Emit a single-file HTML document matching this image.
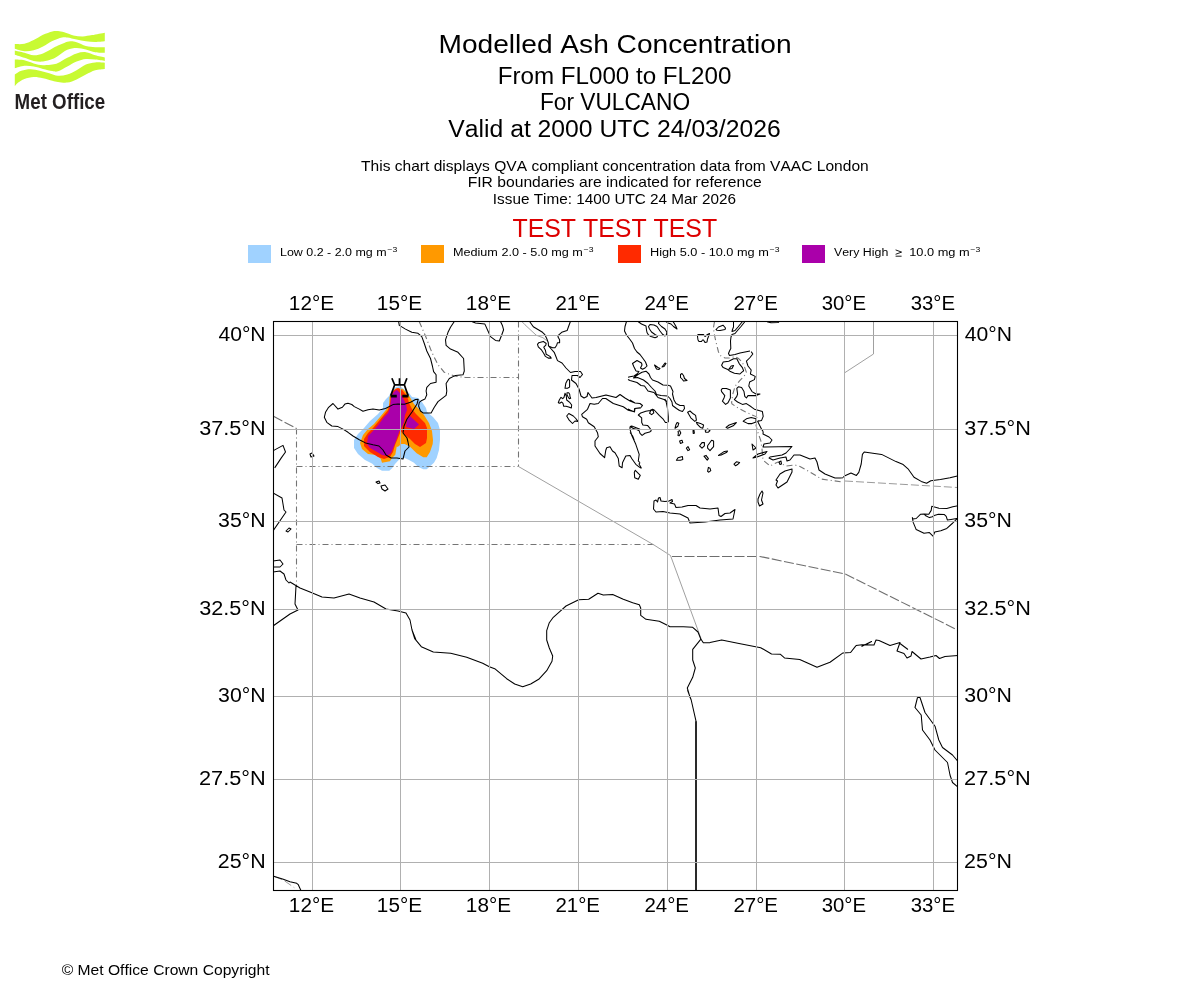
<!DOCTYPE html>
<html><head><meta charset="utf-8"><style>
html,body{margin:0;padding:0;background:#fff;width:1200px;height:1000px;overflow:hidden}
svg{display:block;will-change:transform}
text{font-family:"Liberation Sans",sans-serif;font-kerning:none}
</style></head><body>
<svg width="1200" height="1000" viewBox="0 0 1200 1000">
<rect width="1200" height="1000" fill="#fff"/>
<g fill="#c8fa32"><path d="M14.80 44.10 C16.40 44.05 21.25 44.47 24.40 43.80 C27.55 43.13 30.60 41.60 33.70 40.10 C36.80 38.60 39.90 36.25 43.00 34.80 C46.10 33.35 49.80 32.02 52.30 31.40 C54.80 30.78 56.02 30.95 58.00 31.10 C59.98 31.25 61.62 31.58 64.20 32.30 C66.78 33.02 70.40 34.72 73.50 35.40 C76.60 36.08 79.70 36.45 82.80 36.40 C85.90 36.35 88.43 35.72 92.10 35.10 C95.77 34.48 102.68 33.10 104.80 32.70 L104.80 41.30 C103.20 41.42 98.35 42.02 95.20 42.00 C92.05 41.98 89.00 41.62 85.90 41.20 C82.80 40.78 79.70 40.12 76.60 39.50 C73.50 38.88 69.73 37.83 67.30 37.50 C64.87 37.17 64.50 36.92 62.00 37.50 C59.50 38.08 55.47 39.48 52.30 41.00 C49.13 42.52 46.10 45.05 43.00 46.60 C39.90 48.15 36.80 49.52 33.70 50.30 C30.60 51.08 27.55 51.55 24.40 51.30 C21.25 51.05 16.40 49.22 14.80 48.80 Z"/><path d="M14.80 50.60 C16.40 50.97 21.25 52.02 24.40 52.80 C27.55 53.58 30.60 55.20 33.70 55.30 C36.80 55.40 39.90 54.53 43.00 53.40 C46.10 52.27 49.80 49.80 52.30 48.50 C54.80 47.20 56.02 46.53 58.00 45.60 C59.98 44.67 62.13 43.62 64.20 42.90 C66.27 42.18 68.33 41.40 70.40 41.30 C72.47 41.20 74.02 41.52 76.60 42.30 C79.18 43.08 82.80 45.18 85.90 46.00 C89.00 46.82 92.05 47.00 95.20 47.20 C98.35 47.40 103.20 47.20 104.80 47.20 L104.80 52.80 C103.20 52.70 98.35 52.77 95.20 52.20 C92.05 51.63 89.00 50.12 85.90 49.40 C82.80 48.68 79.70 47.85 76.60 47.90 C73.50 47.95 70.40 48.37 67.30 49.70 C64.20 51.03 60.50 54.35 58.00 55.90 C55.50 57.45 54.80 58.07 52.30 59.00 C49.80 59.93 46.10 61.18 43.00 61.50 C39.90 61.82 36.80 61.52 33.70 60.90 C30.60 60.28 27.55 58.83 24.40 57.80 C21.25 56.77 16.40 55.22 14.80 54.70 Z"/><path d="M14.80 59.60 C16.40 59.72 21.25 59.67 24.40 60.30 C27.55 60.93 30.60 62.58 33.70 63.40 C36.80 64.22 39.90 65.00 43.00 65.20 C46.10 65.40 49.80 64.97 52.30 64.60 C54.80 64.23 55.50 64.13 58.00 63.00 C60.50 61.87 64.20 59.40 67.30 57.80 C70.40 56.20 73.50 54.33 76.60 53.40 C79.70 52.47 82.80 51.88 85.90 52.20 C89.00 52.52 92.05 54.42 95.20 55.30 C98.35 56.18 103.20 57.13 104.80 57.50 L104.80 60.90 C103.20 60.68 98.35 59.92 95.20 59.60 C92.05 59.28 89.00 58.68 85.90 59.00 C82.80 59.32 79.70 60.25 76.60 61.50 C73.50 62.75 70.40 64.87 67.30 66.50 C64.20 68.13 60.50 70.53 58.00 71.30 C55.50 72.07 54.80 71.50 52.30 71.10 C49.80 70.70 46.10 69.67 43.00 68.90 C39.90 68.13 36.80 67.02 33.70 66.50 C30.60 65.98 27.55 65.50 24.40 65.80 C21.25 66.10 16.40 67.88 14.80 68.30 Z"/><path d="M14.80 74.50 C15.88 73.88 18.67 71.67 21.30 70.80 C23.93 69.93 27.50 69.30 30.60 69.30 C33.70 69.30 36.80 70.13 39.90 70.80 C43.00 71.47 46.18 72.47 49.20 73.30 C52.22 74.13 54.98 75.60 58.00 75.80 C61.02 76.00 64.20 75.43 67.30 74.50 C70.40 73.57 73.50 71.85 76.60 70.20 C79.70 68.55 82.80 65.90 85.90 64.60 C89.00 63.30 92.05 62.72 95.20 62.40 C98.35 62.08 103.20 62.65 104.80 62.70 L104.80 68.90 C103.20 69.12 98.35 69.27 95.20 70.20 C92.05 71.13 89.00 72.95 85.90 74.50 C82.80 76.05 79.70 78.15 76.60 79.50 C73.50 80.85 70.40 82.18 67.30 82.60 C64.20 83.02 60.50 82.32 58.00 82.00 C55.50 81.68 54.80 81.33 52.30 80.70 C49.80 80.07 46.10 78.82 43.00 78.20 C39.90 77.58 36.80 76.88 33.70 77.00 C30.60 77.12 26.98 77.97 24.40 78.90 C21.82 79.83 19.80 81.37 18.20 82.60 C16.60 83.83 15.37 85.68 14.80 86.30 Z"/></g>
<text x="14.6" y="109.2" font-size="21.8" font-weight="bold" fill="#231f20" textLength="90.6" lengthAdjust="spacingAndGlyphs" style="font-family:'Liberation Sans',sans-serif">Met Office</text>

<clipPath id="ax"><rect x="273.5" y="321.5" width="684.0" height="569.0"/></clipPath>
<g clip-path="url(#ax)">

<path d="M400.0 386.0 L409.0 393.0 L412.0 397.0 L418.0 398.0 L422.0 402.0 L426.0 408.0 L427.0 412.0 L433.0 417.0 L438.0 423.0 L440.0 430.0 L440.0 440.0 L439.0 450.0 L436.7 458.0 L434.0 462.7 L430.0 466.3 L426.7 469.3 L423.3 469.3 L418.0 466.7 L414.0 462.7 L409.0 460.0 L404.7 458.0 L400.0 459.0 L398.7 460.0 L395.0 464.0 L392.3 468.0 L389.3 470.7 L382.0 470.7 L377.0 468.0 L372.0 463.5 L365.0 460.0 L358.0 454.0 L354.0 448.0 L354.0 440.0 L358.0 434.0 L364.0 428.0 L370.0 421.0 L378.0 414.0 L383.0 408.0 L383.0 403.0 L386.0 399.0 L389.0 396.0 L392.0 390.0 L396.0 387.0Z" fill="#a0d2ff"/>
<path d="M397.0 388.0 L403.0 389.0 L408.0 394.0 L411.0 399.0 L414.0 404.0 L419.0 409.0 L424.0 415.0 L429.0 423.0 L432.0 431.0 L433.0 440.0 L432.7 444.0 L430.0 452.0 L426.7 457.3 L423.3 457.3 L416.7 453.3 L410.0 446.7 L404.7 444.0 L401.3 444.0 L398.0 446.7 L396.7 446.7 L395.3 454.7 L392.0 458.0 L390.0 461.3 L382.0 462.7 L380.7 458.7 L376.0 455.0 L368.0 454.0 L362.0 449.0 L360.0 443.0 L363.0 435.0 L368.0 429.0 L374.0 424.0 L380.0 417.0 L385.0 411.0 L389.0 406.0 L389.5 397.0 L392.0 393.0 L395.0 389.0Z" fill="#ff9900"/>
<path d="M398.0 388.0 L402.0 390.0 L406.0 395.0 L408.0 399.0 L409.0 403.0 L412.0 409.0 L416.0 414.0 L420.0 418.0 L425.0 423.0 L427.0 428.0 L427.0 438.0 L426.0 443.0 L420.0 447.0 L415.0 444.0 L410.0 439.0 L405.0 435.0 L402.0 432.0 L400.0 433.0 L398.0 438.0 L395.0 445.0 L393.0 452.0 L390.0 457.0 L384.0 459.0 L378.0 457.0 L370.0 452.0 L364.0 446.0 L364.0 439.0 L368.0 433.0 L373.0 428.0 L378.0 422.0 L383.0 416.0 L388.0 410.0 L390.0 403.0 L391.0 394.0 L394.0 390.0Z" fill="#ff2a00"/>
<path d="M397.0 390.0 L400.0 393.0 L403.0 398.0 L406.0 404.0 L407.0 410.0 L405.0 415.0 L404.0 422.0 L402.0 427.0 L399.0 432.0 L397.0 438.0 L394.0 446.0 L391.0 453.0 L387.0 456.0 L382.0 455.0 L377.0 452.0 L370.0 448.0 L367.0 444.0 L368.0 436.0 L373.0 431.0 L379.0 424.0 L384.0 417.0 L388.0 413.0 L390.0 408.0 L391.0 398.0 L393.0 393.0 L395.0 391.0Z" fill="#aa00aa"/>
<path d="M410.0 416.0 L419.0 424.5 L414.0 429.0 L406.0 427.0 L407.0 419.0Z" fill="#aa00aa"/>
<path d="M419.2 321.5 L425.5 336.0 L431.8 352.2 L438.0 364.8 L444.2 372.2 L454.2 376.0 L465.5 377.5 L518.3 377.5" fill="none" stroke="#747474" stroke-width="1.1" stroke-dasharray="6 3 1 3"/>
<path d="M518.5 321.5 L518.5 466.5" fill="none" stroke="#747474" stroke-width="1.1" stroke-dasharray="6 3 1 3"/>
<path d="M296.5 466.5 L518.5 466.5" fill="none" stroke="#747474" stroke-width="1.1" stroke-dasharray="6 3 1 3"/>
<path d="M296.5 428.5 L296.5 586.0" fill="none" stroke="#747474" stroke-width="1.1" stroke-dasharray="6 3 1 3"/>
<path d="M296.5 544.5 L654.0 544.5" fill="none" stroke="#747474" stroke-width="1.1" stroke-dasharray="6 3 1 3"/>
<path d="M714.5 321.5 L713.5 327.5 L714.0 332.5 L715.5 340.0 L717.0 346.0 L718.5 352.0 L721.0 356.0 L725.0 358.0 L729.5 358.0 L735.0 356.5 L738.5 358.5 L741.5 361.5 L744.0 365.5 L746.4 372.4 L744.0 376.4 L740.0 380.4 L735.2 386.0 L732.8 394.0 L731.6 402.8 L732.0 404.0 L737.4 407.6 L745.2 411.8 L756.0 416.6 L759.0 420.2 L756.0 425.0 L757.8 432.2 L760.8 440.6 L762.0 449.0 L763.0 460.0 L770.0 466.0 L778.0 462.0 L786.0 466.0 L795.0 465.0 L800.0 466.5 L810.0 472.0 L821.6 479.1 L841.4 481.8" fill="none" stroke="#747474" stroke-width="1.1" stroke-dasharray="6 3 1 3"/>
<path d="M273.5 416.3 L296.5 428.5" fill="none" stroke="#6e6e6e" stroke-width="1.1" stroke-dasharray="10 2.5"/>
<path d="M672.0 556.5 L760.0 556.5 L845.3 574.0 L957.5 630.0" fill="none" stroke="#6e6e6e" stroke-width="1.1" stroke-dasharray="10 2.5"/>
<path d="M845.0 481.0 L957.5 487.5" fill="none" stroke="#9a9a9a" stroke-width="1" stroke-dasharray="8 3"/>
<path d="M518.5 466.5 L654.0 545.0 L670.5 555.5 L701.3 639.3" fill="none" stroke="#a0a0a0" stroke-width="1"/>
<path d="M521.8 321.5 L525.0 324.8 L536.2 335.2 L542.9 337.7 L546.7 340.6" fill="none" stroke="#a0a0a0" stroke-width="1"/>
<path d="M873.5 321.5 L873.5 354.0 L844.5 372.9 L844.5 481.0" fill="none" stroke="#a0a0a0" stroke-width="1"/>
<path d="M274.5 876.7 L283.3 880.0 L294.3 887.7" fill="none" stroke="#9a9a9a" stroke-width="1" stroke-dasharray="8 3"/>
<path d="M333.0 403.5 L338.0 409.1 L342.4 407.3 L344.9 404.1 L348.0 403.3 L351.8 404.5 L354.3 406.6 L359.3 409.1 L363.0 411.3 L368.0 409.8 L373.0 409.1 L379.3 410.0 L385.5 408.5 L393.0 404.6 L398.0 404.1 L404.3 404.3 L410.5 402.3 L415.5 399.5 L418.2 399.3 L417.0 404.0 L412.0 412.0 L407.0 419.0 L404.0 426.0 L403.0 433.0 L407.0 438.0 L408.0 442.0 L409.0 447.0 L405.0 451.0 L404.0 455.0 L403.0 459.0 L397.0 458.0 L391.0 458.0 L386.0 455.0 L383.0 450.0 L379.0 446.0 L373.0 444.8 L365.5 442.9 L359.3 439.8 L353.0 436.0 L348.0 432.3 L343.0 429.1 L338.0 426.6 L331.8 426.0 L326.8 422.3 L324.3 417.3 L325.5 412.3 L328.6 407.3Z M398.6 321.5 L399.3 325.4 L405.5 329.1 L411.8 332.3 L418.0 333.3 L421.8 336.6 L424.3 343.5 L426.8 351.0 L430.5 358.5 L432.4 366.0 L433.6 371.6 L436.1 374.8 L436.1 382.3 L430.5 383.5 L426.8 387.3 L426.1 391.0 L426.8 394.8 L424.9 399.1 L421.8 400.4 L419.3 402.3 L418.6 406.0 L420.5 411.0 L423.0 412.9 L431.1 412.9 L434.3 407.3 L438.0 401.6 L446.1 395.4 L446.8 391.0 L446.1 383.5 L449.3 378.5 L455.5 375.4 L463.0 374.8 L464.3 371.0 L463.6 358.5 L458.0 352.3 L450.5 349.1 L446.1 345.4 L445.5 339.8 L448.0 332.3 L450.5 327.3 L454.3 321.5 M471.8 321.5 L475.5 322.9 L484.9 324.1 L488.0 331.0 L490.5 336.6 L495.5 340.4 L499.3 341.0 L501.8 334.8 L503.6 329.8 L502.4 325.4 L500.5 321.5 M529.6 321.5 L533.3 326.8 L537.5 329.3 L542.5 332.3 L544.6 334.3 L546.7 338.5 L548.3 342.7 L548.5 346.0 L550.8 348.5 L554.2 352.3 L556.2 357.3 L557.5 360.6 L562.0 363.0 L566.0 368.0 L570.5 372.5 L575.0 371.5 L580.5 371.5 L582.5 374.5 L580.0 377.5 L577.5 375.5 L572.0 375.5 L571.5 380.0 L576.0 383.5 L579.0 389.0 L581.0 396.0 L584.0 398.0 L587.0 396.5 L588.0 392.5 L592.0 398.0 L596.0 397.5 L606.0 395.0 L616.0 397.5 L620.0 394.5 L625.0 398.0 L630.0 401.0 L635.0 403.0 L640.0 403.5 M570.4 321.5 L568.3 327.3 L567.1 330.6 L561.7 332.3 L558.8 334.8 L557.9 336.8 L559.6 339.8 L559.6 342.7 L557.5 342.7 L556.7 345.2 L555.0 347.7 L552.5 347.7 L548.5 346.0 M537.5 344.3 L538.8 342.7 L543.3 341.4 L546.2 343.5 L545.8 345.2 L543.8 347.2 L545.4 350.2 L546.2 354.3 L550.0 356.4 L551.2 358.1 L548.3 358.1 L545.4 356.4 L543.8 353.5 L541.7 350.2 L538.3 346.8Z M273.8 450.4 L283.0 445.4 L285.5 452.0 L281.3 457.9 L274.7 467.9 M638.0 321.5 L641.5 324.0 L646.0 326.0 L646.5 330.0 L647.0 332.5 L648.5 335.0 L651.0 336.5 L655.0 337.8 L657.0 337.0 L657.5 336.0 L655.0 334.5 L651.5 332.0 L649.5 329.0 L648.5 326.5 L650.0 324.5 L654.0 325.0 L657.0 326.5 L660.0 331.0 L662.5 334.2 L665.0 336.0 L666.5 334.5 L666.8 332.0 L665.0 329.0 L661.5 326.5 L658.5 323.5 L659.0 321.5 M666.0 321.5 L668.0 323.0 L671.0 324.0 L673.5 326.5 L677.0 329.0 L676.0 326.5 L674.0 323.0 L673.0 321.5 M630.0 339.5 L632.5 343.0 L634.5 348.5 L637.0 352.0 L640.0 354.5 L643.0 358.5 L645.5 362.0 L647.0 366.0 L645.0 368.0 L642.5 369.2 L640.5 368.0 L642.0 365.0 L641.5 363.0 L637.0 360.5 L632.5 363.5 L634.0 367.0 L636.0 371.0 M654.5 365.0 L658.0 367.5 L660.0 368.5 L659.0 369.5 L656.5 369.0Z M662.0 367.0 L665.0 363.0 L666.0 363.5 L664.0 366.5Z M698.0 334.5 L703.5 334.5 L705.0 336.5 L707.5 334.5 L709.5 333.5 L708.5 336.5 L707.5 339.0 L707.0 342.0 L705.0 342.5 L703.5 340.0 L702.5 340.0 L701.5 341.5 L699.0 341.5 L698.0 340.0 L697.5 336.5Z M716.0 329.5 L718.5 327.0 L723.0 325.2 L725.5 328.0 L725.0 329.5 L720.0 330.5 L717.0 330.2Z M733.5 321.5 L733.5 327.0 L732.5 329.5 L732.0 331.5 L735.0 330.5 L738.0 327.0 L742.5 321.5 M745.0 321.5 L741.0 326.5 L737.5 330.5 L735.0 333.5 L732.0 334.5 L731.0 337.0 L730.5 341.0 L730.8 348.5 L729.5 351.0 L728.5 353.5 L729.5 355.5 L735.0 354.5 L740.0 353.0 L750.0 351.0 M636.0 371.0 L639.0 371.5 L637.0 374.0 L634.0 376.0 L630.0 376.8 L628.0 377.2 M633.5 378.0 L638.0 374.5 L642.0 372.2 L646.0 371.2 L649.0 374.0 L650.5 377.5 L652.5 380.0 L658.0 382.0 L663.0 385.0 L668.0 385.2 L670.5 386.0 L673.0 391.5 L672.5 394.0 L674.0 400.0 L676.0 403.5 L680.0 405.5 L684.0 405.5 L684.5 408.5 L682.5 411.5 L679.5 410.5 L676.5 408.5 L672.5 405.5 L672.0 402.0 L670.0 398.5 L667.5 396.0 L661.0 395.5 L656.5 394.5 L655.0 391.0 L651.5 387.5 L648.0 383.5 L643.5 380.0 L637.5 377.5Z M628.0 379.5 L630.0 380.5 L637.0 382.5 L641.0 385.5 L644.5 386.0 L648.0 391.0 L654.0 392.5 L656.0 395.0 L658.0 397.5 L664.0 399.5 L667.0 401.5 M630.0 400.0 L635.0 403.0 L640.0 403.5 L642.5 405.5 L640.5 408.0 L635.0 408.5 L634.5 412.0 L630.0 410.0 L628.0 409.0 M680.5 374.5 L682.0 373.5 L683.5 375.5 L684.5 378.5 L687.0 380.5 L683.5 381.0 L682.5 379.5 L680.5 377.5Z M626.5 321.5 L625.0 326.5 L624.5 331.0 L626.5 335.0 L630.0 339.5 M565.0 388.3 L565.8 383.3 L567.5 380.0 L568.8 379.2 L569.6 380.4 L569.6 387.1 L567.5 388.3Z M565.0 393.3 L564.0 397.3 L562.7 398.7 L561.0 397.3 L559.3 400.0 L558.3 402.7 L559.7 403.3 L561.7 402.0 L563.0 403.3 L563.7 406.3 L566.0 406.3 L568.7 407.0 L571.3 408.0 L571.7 405.0 L570.0 402.7 L566.7 400.0 L566.3 396.0Z M567.0 392.7 L568.7 392.7 L569.7 394.3 L570.0 396.7 L570.7 398.3 L569.3 398.7 L568.0 396.7 L567.0 394.7Z M566.7 416.0 L568.8 413.5 L573.3 416.0 L575.8 418.5 L577.9 421.4 L575.0 421.0 L572.5 423.5 L569.2 420.2Z M640.0 407.7 L634.6 408.5 L634.2 411.8 L628.3 410.2 L623.3 406.8 L613.3 403.5 L605.8 398.5 L602.5 398.5 L598.3 403.5 L594.2 404.3 L590.0 403.5 L587.5 409.3 L581.7 414.3 L582.5 416.8 L586.7 419.3 L588.3 422.7 L594.2 426.8 L597.5 432.7 L598.3 436.8 L595.0 441.0 L595.0 446.0 L600.0 453.5 L604.6 457.7 L605.8 450.2 L606.7 447.7 L610.0 446.8 L612.5 451.0 L615.0 452.7 L618.3 458.5 L619.2 466.0 L622.1 467.7 L622.5 462.7 L625.8 456.0 L630.0 455.6 L631.7 458.5 L635.8 464.3 L640.0 467.7 M630.0 426.8 L631.7 426.0 L640.0 429.3 M630.0 426.8 L630.0 429.3 L631.7 435.2 L635.8 444.3 L639.2 454.3 L638.3 461.0 L640.0 462.7 M630.0 426.2 L632.9 428.3 L636.7 429.6 L639.2 430.8 L640.0 433.3 L642.1 435.4 L645.0 433.3 L649.6 432.1 L651.2 430.8 L650.0 428.3 L647.5 425.4 L642.9 425.0 L641.7 422.5 L641.7 417.9 L638.3 415.0 L640.8 412.9 L645.8 411.2 L650.0 410.4 L652.5 409.2 L654.2 410.0 L659.2 415.4 L662.9 418.8 L665.4 422.5 L667.5 422.5 L668.3 421.7 L668.3 416.7 L667.5 408.3 L666.2 402.1 L665.4 400.0 L665.0 398.8 M649.6 413.3 L650.8 410.4 L652.9 410.0 L653.8 412.9 L651.7 414.6Z M675.0 428.3 L675.8 425.0 L677.1 422.5 L678.8 423.3 L677.9 426.2Z M630.0 432.5 L632.5 435.8 L634.2 440.0 M687.6 412.2 L690.0 411.0 L693.2 413.8 L695.6 415.4 L696.4 420.2 L694.8 421.4 L690.8 417.8Z M696.4 422.2 L700.4 423.4 L703.6 425.0 L702.8 428.2 L700.4 427.4 L697.2 424.2Z M678.0 431.4 L679.6 430.6 L680.8 433.0 L679.2 435.8 L678.0 435.4 L678.4 433.0Z M693.0 430.4 L694.0 430.2 L694.4 433.2 L693.2 433.4Z M705.2 430.6 L707.6 429.0 L710.0 430.6 L708.4 432.2 L705.6 432.2Z M679.6 441.0 L682.0 440.2 L682.8 442.6 L680.4 443.4Z M699.6 445.8 L702.0 442.6 L704.4 442.6 L704.4 445.8 L702.0 448.2Z M707.6 445.8 L711.6 440.2 L713.6 441.0 L713.6 446.6 L710.0 450.6 L707.6 448.2Z M686.4 448.2 L688.0 446.6 L689.6 449.8 L688.0 450.6Z M676.4 460.2 L678.0 457.8 L682.4 456.6 L682.8 459.4 L680.4 460.2Z M704.0 456.2 L706.0 455.4 L708.4 458.6 L707.2 460.2Z M707.6 471.4 L708.4 467.4 L710.0 468.2 L710.8 470.6 L708.8 472.2Z M718.4 455.4 L724.4 451.4 L727.6 451.0 L726.8 452.2 L721.2 455.0Z M734.0 464.2 L736.4 461.8 L739.6 462.6 L738.0 464.2 L735.6 465.8Z M726.0 427.4 L729.2 425.0 L736.4 422.6 L733.2 425.8 L727.6 428.2Z M751.2 351.6 L752.8 354.0 L749.6 358.0 L746.4 361.2 L748.0 366.0 L751.2 370.0 L750.4 374.0 L755.2 376.4 L754.4 379.6 L749.6 382.0 L748.8 386.0 L752.0 391.6 L756.0 394.0 L760.0 394.0 L756.0 395.6 L748.0 395.6 L746.4 398.0 L744.8 396.4 L744.0 391.6 L741.6 387.6 L738.4 386.8 L736.8 388.4 L737.6 394.0 L736.8 396.4 L734.4 399.6 L737.6 402.0 L742.4 404.4 L746.4 403.6 L751.2 406.8 L754.4 409.2 L762.4 411.6 L763.2 416.4 L761.6 420.4 L757.6 421.2 L759.2 424.4 L761.6 429.2 L763.2 431.6 M721.6 365.2 L723.2 362.0 L728.8 361.2 L733.6 358.8 L736.8 358.8 L739.2 363.6 L742.4 367.6 L743.6 370.8 L741.6 372.4 L740.0 374.0 L734.4 373.2 L730.4 371.6 L727.2 369.2 L723.2 367.6Z M728.8 369.2 L731.2 366.0 L733.6 365.6 L732.0 368.4Z M721.2 390.0 L722.4 388.4 L726.4 388.4 L730.4 390.0 L730.4 398.0 L728.0 402.8 L725.6 404.4 L722.4 401.2 L724.0 398.0 L724.8 395.6 L721.6 391.6Z M743.2 421.2 L746.4 418.8 L751.2 417.6 L756.0 418.8 L756.0 422.0 L752.0 423.6 L748.0 423.6Z M763.2 431.6 L763.0 434.0 L769.0 437.0 L772.0 440.0 L770.0 443.0 L764.0 444.0 L763.0 447.0 L765.0 447.0 L792.0 446.5 L786.0 453.0 L782.0 455.0 L770.0 457.0 L769.0 458.0 L773.0 460.0 L780.0 458.0 L786.0 457.0 L787.0 461.0 L790.0 460.0 L794.0 455.0 L800.0 455.0 L810.0 459.0 L815.0 458.0 L817.0 462.0 L819.0 470.0 L825.0 474.0 L835.0 478.0 L840.0 478.0 L843.0 477.8 M753.0 458.0 L758.0 454.0 L767.0 451.5 L765.0 454.0 L757.0 457.0Z M752.0 444.0 L756.0 448.0 L753.0 450.0Z M779.0 462.0 L781.0 461.0 L781.5 464.0 L780.0 464.5Z M776.0 480.0 L780.0 474.0 L785.0 471.0 L792.0 469.0 L792.0 472.0 L788.0 480.0 L787.0 482.0 L784.0 484.0 L778.0 488.0 L776.0 485.0 L777.5 481.0Z M758.0 499.0 L760.0 494.0 L762.0 491.0 L763.0 493.0 L761.5 500.0 L763.0 504.0 L759.5 506.0 L758.0 502.0Z M843.0 477.5 L844.4 476.0 L851.0 473.0 L856.4 475.4 L858.8 472.4 L861.2 464.0 L862.4 454.4 L864.2 452.0 L881.6 454.4 L896.0 461.6 L903.2 464.6 L908.0 468.8 L914.0 477.2 L921.2 481.4 L926.6 483.2 L930.8 480.8 L940.4 479.6 L950.0 477.8 L957.3 476.0 L962.1 474.8 M912.3 517.3 L912.9 519.1 L916.2 518.5 L920.4 514.3 L924.0 514.0 L928.8 514.3 L931.2 510.4 L931.8 506.2 L933.6 506.8 L939.0 508.3 L946.8 508.6 L952.8 506.8 L960.0 505.3 M924.0 514.0 L925.8 515.8 L929.4 517.6 L932.4 516.7 L934.2 515.5 L938.4 514.3 L944.4 514.6 L946.2 516.4 L947.4 520.0 L951.0 519.4 L960.0 517.9 M912.3 517.3 L913.2 522.4 L916.2 529.6 L924.0 533.2 L929.4 532.6 L933.0 536.2 L934.8 532.0 L940.8 530.8 L946.8 528.4 L952.8 523.0 L956.4 519.4 L960.0 517.0 M654.0 501.0 L656.0 500.0 L657.5 502.0 L658.5 498.0 L660.0 497.5 L661.0 501.0 L665.0 501.5 L669.0 501.0 L672.0 499.5 L672.5 501.5 L670.0 503.0 L674.5 504.0 L676.0 507.5 L682.0 507.0 L688.0 505.5 L696.0 505.5 L700.0 508.0 L710.0 509.0 L718.0 508.0 L719.0 515.5 L721.0 516.5 L725.0 513.5 L730.0 513.0 L735.0 509.5 L733.0 519.0 L720.0 520.0 L705.0 522.0 L690.0 523.0 L688.0 518.0 L680.0 514.0 L670.0 513.0 L663.0 511.5 L656.0 512.0 L653.5 509.0Z M310.0 454.0 L312.0 453.0 L314.0 456.0 L311.0 457.0Z M376.0 482.0 L379.0 481.0 L380.0 483.0 L378.0 483.6Z M381.0 486.0 L385.0 485.0 L388.0 489.0 L385.0 491.0 L382.0 489.0Z M273.0 493.0 L282.0 498.0 L284.0 510.0 L286.0 512.0 L273.0 531.0 M286.0 531.0 L289.0 528.0 L291.0 529.0 L288.0 532.0Z M273.0 561.0 L280.0 560.0 L283.0 564.0 L280.0 567.0 L273.0 567.0 M273.0 572.0 L280.0 571.0 L284.0 574.0 L286.0 580.0 L289.0 583.0 L290.0 582.0 L300.0 588.0 L310.0 592.0 L322.0 597.0 L334.0 598.0 L349.0 594.0 L360.0 598.0 L374.0 602.0 L386.0 609.0 L398.0 611.0 L406.0 613.0 L410.0 620.0 L412.0 630.0 L416.0 640.0 M296.0 586.0 L295.0 604.0 L298.0 610.0 L290.0 614.0 L273.0 626.0 M412.0 630.0 L414.7 638.7 L421.3 646.7 L433.3 652.0 L450.7 653.3 L466.7 657.3 L482.7 663.3 L489.3 666.7 L494.7 668.7 L506.7 678.7 L514.7 684.0 L522.7 686.7 L530.7 684.0 L538.7 679.3 L546.7 670.7 L552.0 661.3 L552.7 656.0 L549.3 648.0 L546.7 640.0 L546.7 630.7 L549.3 622.7 L553.3 617.3 L560.0 611.3 M560.0 611.3 L566.0 606.0 L578.7 599.7 L588.7 599.3 L598.0 593.3 L603.3 595.1 L612.7 594.4 L623.3 599.3 L632.7 602.7 L639.3 604.7 L640.7 608.0 L640.7 615.3 L646.0 619.3 L659.3 621.3 L667.3 625.3 L670.0 626.7 L683.3 626.7 L692.7 627.3 L698.0 632.0 L700.7 638.7 L703.3 642.7 L710.0 642.7 M700.7 639.3 L692.7 649.3 L692.7 660.0 L695.3 668.0 L692.7 677.3 L687.3 688.0 L690.0 697.3 L691.3 700.0 M710.0 642.5 L721.7 639.9 L739.0 643.4 L760.7 647.7 L771.5 654.0 L780.2 654.2 L784.5 657.9 L799.7 659.4 L817.0 667.2 L830.0 662.3 L843.0 652.9 L850.6 652.5 L856.0 645.6 M856.0 645.6 L862.0 644.8 L874.0 645.0 L876.0 640.0 L879.0 640.5 L890.0 645.5 L900.0 642.5 L897.0 651.0 L904.0 653.5 L907.0 658.0 L911.0 656.0 L912.0 651.5 L921.0 659.0 L930.0 657.0 L936.0 655.5 L939.5 658.5 L945.0 656.5 L958.0 655.5 M861.5 646.5 L871.5 641.5 L865.0 645.0 M900.0 643.5 L908.0 649.5 M687.5 690.0 L691.2 700.0 L696.0 721.2 L696.0 897.5 M917.5 697.5 L915.0 707.5 L921.2 715.0 L922.5 730.0 L930.0 740.0 L935.0 750.0 L947.5 762.5 L950.0 775.0 L952.5 782.5 L960.0 788.8 M917.5 697.5 L920.0 697.5 L925.0 712.5 L935.0 726.2 L938.8 740.0 L942.5 747.5 L952.5 755.0 L960.0 763.8 M273.7 876.3 L283.3 879.3 L290.0 881.7 L296.7 883.3 L298.3 884.7 L300.7 890.0 L301.3 892.0 M635.3 470.3 L640.3 475.3 L638.3 479.3 L634.7 477.7 L634.3 472.3Z M640.0 462.7 L639.0 464.0 L641.3 468.0 L640.0 467.7 M767.0 321.8 L771.0 322.7 L778.0 322.5 L779.0 321.8" fill="none" stroke="#000" stroke-width="1.05" stroke-linejoin="round"/>
<path d="M696 721.25 V891" stroke="#111" stroke-width="1.5" fill="none"/>
</g>
<text x="438.49" y="53.00" font-size="25.73" textLength="353.13" lengthAdjust="spacingAndGlyphs" fill="#000">Modelled Ash Concentration</text>
<text x="497.72" y="83.60" font-size="23.55" textLength="233.63" lengthAdjust="spacingAndGlyphs" fill="#000">From FL000 to FL200</text>
<text x="539.94" y="109.80" font-size="23.69" textLength="150.15" lengthAdjust="spacingAndGlyphs" fill="#000">For VULCANO</text>
<text x="448.39" y="136.50" font-size="23.98" textLength="332.29" lengthAdjust="spacingAndGlyphs" fill="#000">Valid at 2000 UTC 24/03/2026</text>
<text x="361.05" y="170.70" font-size="14.10" textLength="507.66" lengthAdjust="spacingAndGlyphs" fill="#000">This chart displays QVA compliant concentration data from VAAC London</text>
<text x="467.72" y="186.70" font-size="14.10" textLength="293.98" lengthAdjust="spacingAndGlyphs" fill="#000">FIR boundaries are indicated for reference</text>
<text x="492.89" y="203.70" font-size="14.10" textLength="243.08" lengthAdjust="spacingAndGlyphs" fill="#000">Issue Time: 1400 UTC 24 Mar 2026</text>
<text x="512.44" y="236.70" font-size="25.87" textLength="204.73" lengthAdjust="spacingAndGlyphs" fill="#dd0000">TEST TEST TEST</text>
<text x="61.66" y="975.10" font-size="14.54" textLength="207.95" lengthAdjust="spacingAndGlyphs" fill="#000">© Met Office Crown Copyright</text>
<rect x="248" y="245" width="23" height="18" fill="#a0d2ff"/>
<text x="279.98" y="256.00" font-size="11.63" textLength="106.59" lengthAdjust="spacingAndGlyphs" fill="#000">Low 0.2 - 2.0 mg m</text>
<text x="387.58" y="251.75" font-size="6.69" textLength="9.80" lengthAdjust="spacingAndGlyphs" fill="#000">−3</text>
<rect x="421" y="245" width="23" height="18" fill="#ff9900"/>
<text x="452.96" y="256.00" font-size="11.63" textLength="129.87" lengthAdjust="spacingAndGlyphs" fill="#000">Medium 2.0 - 5.0 mg m</text>
<text x="583.83" y="251.75" font-size="6.69" textLength="9.80" lengthAdjust="spacingAndGlyphs" fill="#000">−3</text>
<rect x="618" y="245" width="23" height="18" fill="#ff2a00"/>
<text x="649.96" y="256.00" font-size="11.63" textLength="118.88" lengthAdjust="spacingAndGlyphs" fill="#000">High 5.0 - 10.0 mg m</text>
<text x="769.83" y="251.75" font-size="6.69" textLength="9.80" lengthAdjust="spacingAndGlyphs" fill="#000">−3</text>
<rect x="802" y="245" width="23" height="18" fill="#aa00aa"/>
<text x="833.95" y="256.00" font-size="11.63" textLength="54.36" lengthAdjust="spacingAndGlyphs" fill="#000">Very High</text>
<path d="M895.6 249.9 L901.6 252.1 L895.6 254.3 M895.6 256.2 H901.6" stroke="#000" stroke-width="0.9" fill="none"/>
<text x="909.23" y="256.00" font-size="11.63" textLength="60.37" lengthAdjust="spacingAndGlyphs" fill="#000">10.0 mg m</text>
<text x="970.58" y="251.75" font-size="6.69" textLength="9.80" lengthAdjust="spacingAndGlyphs" fill="#000">−3</text>
<path d="M312.5 321.5V890.5 M400.5 321.5V890.5 M489.5 321.5V890.5 M578.5 321.5V890.5 M667.5 321.5V890.5 M756.5 321.5V890.5 M844.5 321.5V890.5 M933.5 321.5V890.5 M273.5 335.5H957.5 M273.5 429.5H957.5 M273.5 521.5H957.5 M273.5 609.5H957.5 M273.5 696.5H957.5 M273.5 779.5H957.5 M273.5 862.5H957.5" stroke="#b0b0b0" stroke-width="1" fill="none"/>
<path d="M391.9 378.2 L394.6 384.8 M399.5 378.2 L399.5 384.8 M406.9 378.2 L404.4 384.8 M394.0 384.9 L405.0 384.9 M394.6 385 L390.8 395.6 M404.4 385 L408.1 395.6" fill="none" stroke="#000" stroke-width="1.7" stroke-linecap="butt" stroke-linejoin="round"/>
<path d="M390.6 396.2 L396.8 396.2 M402.3 396.2 L408.5 396.2" fill="none" stroke="#000" stroke-width="2.8"/>
<text x="288.87" y="309.90" font-size="19.77" textLength="45.17" lengthAdjust="spacingAndGlyphs" fill="#000">12°E</text>
<text x="288.87" y="911.70" font-size="19.77" textLength="45.17" lengthAdjust="spacingAndGlyphs" fill="#000">12°E</text>
<text x="376.87" y="309.90" font-size="19.77" textLength="45.17" lengthAdjust="spacingAndGlyphs" fill="#000">15°E</text>
<text x="376.87" y="911.70" font-size="19.77" textLength="45.17" lengthAdjust="spacingAndGlyphs" fill="#000">15°E</text>
<text x="465.87" y="309.90" font-size="19.77" textLength="45.17" lengthAdjust="spacingAndGlyphs" fill="#000">18°E</text>
<text x="465.87" y="911.70" font-size="19.77" textLength="45.17" lengthAdjust="spacingAndGlyphs" fill="#000">18°E</text>
<text x="555.42" y="309.90" font-size="19.77" textLength="44.61" lengthAdjust="spacingAndGlyphs" fill="#000">21°E</text>
<text x="555.42" y="911.70" font-size="19.77" textLength="44.61" lengthAdjust="spacingAndGlyphs" fill="#000">21°E</text>
<text x="644.42" y="309.90" font-size="19.77" textLength="44.61" lengthAdjust="spacingAndGlyphs" fill="#000">24°E</text>
<text x="644.42" y="911.70" font-size="19.77" textLength="44.61" lengthAdjust="spacingAndGlyphs" fill="#000">24°E</text>
<text x="733.42" y="309.90" font-size="19.77" textLength="44.61" lengthAdjust="spacingAndGlyphs" fill="#000">27°E</text>
<text x="733.42" y="911.70" font-size="19.77" textLength="44.61" lengthAdjust="spacingAndGlyphs" fill="#000">27°E</text>
<text x="821.67" y="309.90" font-size="19.77" textLength="44.35" lengthAdjust="spacingAndGlyphs" fill="#000">30°E</text>
<text x="821.67" y="911.70" font-size="19.77" textLength="44.35" lengthAdjust="spacingAndGlyphs" fill="#000">30°E</text>
<text x="910.67" y="309.90" font-size="19.77" textLength="44.35" lengthAdjust="spacingAndGlyphs" fill="#000">33°E</text>
<text x="910.67" y="911.70" font-size="19.77" textLength="44.35" lengthAdjust="spacingAndGlyphs" fill="#000">33°E</text>
<text x="218.42" y="340.50" font-size="19.62" textLength="47.21" lengthAdjust="spacingAndGlyphs" fill="#000">40°N</text>
<text x="964.72" y="340.50" font-size="19.62" textLength="47.21" lengthAdjust="spacingAndGlyphs" fill="#000">40°N</text>
<text x="199.28" y="434.50" font-size="19.62" textLength="66.39" lengthAdjust="spacingAndGlyphs" fill="#000">37.5°N</text>
<text x="964.38" y="434.50" font-size="19.62" textLength="66.39" lengthAdjust="spacingAndGlyphs" fill="#000">37.5°N</text>
<text x="218.09" y="526.50" font-size="19.62" textLength="47.55" lengthAdjust="spacingAndGlyphs" fill="#000">35°N</text>
<text x="964.39" y="526.50" font-size="19.62" textLength="47.55" lengthAdjust="spacingAndGlyphs" fill="#000">35°N</text>
<text x="199.28" y="614.50" font-size="19.62" textLength="66.39" lengthAdjust="spacingAndGlyphs" fill="#000">32.5°N</text>
<text x="964.38" y="614.50" font-size="19.62" textLength="66.39" lengthAdjust="spacingAndGlyphs" fill="#000">32.5°N</text>
<text x="218.09" y="701.50" font-size="19.62" textLength="47.55" lengthAdjust="spacingAndGlyphs" fill="#000">30°N</text>
<text x="964.39" y="701.50" font-size="19.62" textLength="47.55" lengthAdjust="spacingAndGlyphs" fill="#000">30°N</text>
<text x="199.01" y="784.50" font-size="19.62" textLength="66.66" lengthAdjust="spacingAndGlyphs" fill="#000">27.5°N</text>
<text x="964.11" y="784.50" font-size="19.62" textLength="66.66" lengthAdjust="spacingAndGlyphs" fill="#000">27.5°N</text>
<text x="217.82" y="867.50" font-size="19.62" textLength="47.82" lengthAdjust="spacingAndGlyphs" fill="#000">25°N</text>
<text x="964.12" y="867.50" font-size="19.62" textLength="47.82" lengthAdjust="spacingAndGlyphs" fill="#000">25°N</text>
<rect x="273.5" y="321.5" width="684.0" height="569.0" fill="none" stroke="#000" stroke-width="1.1"/>
</svg>
</body></html>
